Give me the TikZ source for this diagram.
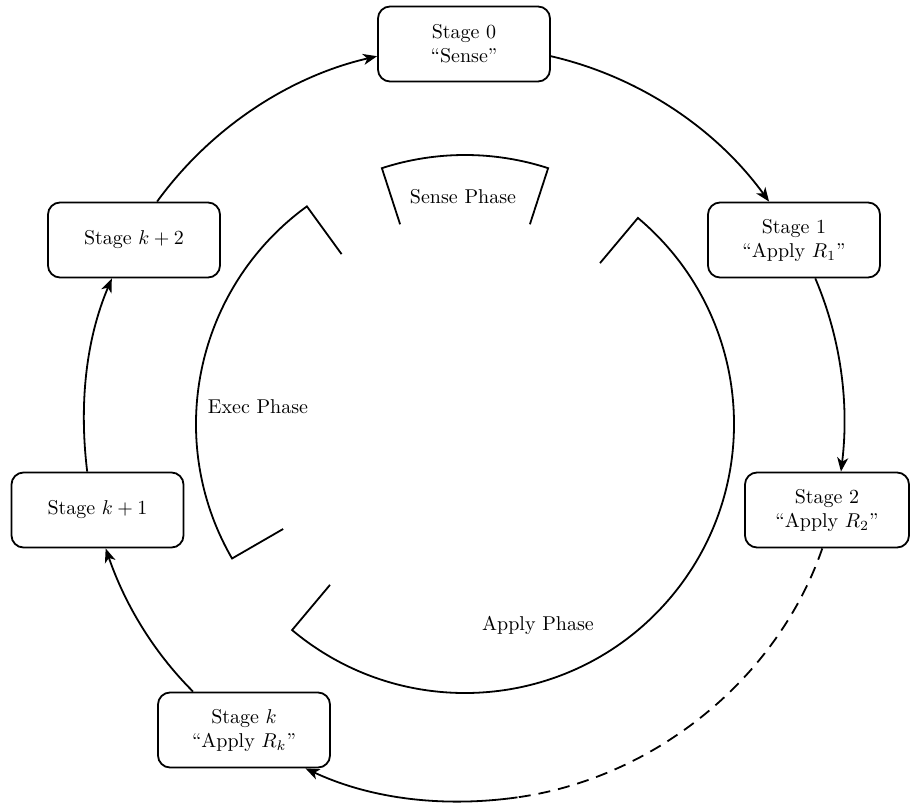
\documentclass[tikz,border=0pt]{standalone}
\usetikzlibrary{arrows.meta}
\begin{document}
\begin{tikzpicture}[x=0.5pt,y=0.5pt,line width=0.9pt,
  stage/.style={draw,rounded corners=6pt,minimum width=86pt,minimum height=37.5pt,align=center,inner sep=2pt},
  flow/.style={-{Stealth[length=7pt,width=5.5pt,inset=2pt]},looseness=0.88},
  dashpart/.style={dash pattern=on 6pt off 4pt,looseness=0.9},
  phase/.style={line join=miter},
  label/.style={inner sep=1pt}]
\useasboundingbox (0,0) rectangle (910,805);
\coordinate (C) at (465,381);
% stage nodes
\node[stage] (S0) at (464,761) {Stage 0\\\textquotedblleft Sense\textquotedblright};
\node[stage] (S1) at (794,565) {Stage 1\\\textquotedblleft Apply $R_1$\textquotedblright};
\node[stage,minimum width=82pt] (S2) at (827,295) {Stage 2\\\textquotedblleft Apply $R_2$\textquotedblright};
\node[stage] (Sk) at (244,75) {Stage $k$\\\textquotedblleft Apply $R_k$\textquotedblright};
\node[stage] (Sk1) at (97.5,295) {Stage $k+1$};
\node[stage] (Sk2) at (134,565) {Stage $k+2$};
% phases
\draw[phase,shift={(C)}] (72:210) -- (72:269) arc[start angle=72,end angle=108,radius=269] -- (108:210);
\draw[phase,shift={(C)}] (126:210) -- (126:269) arc[start angle=126,end angle=210,radius=269] -- (210:210);
\draw[phase,shift={(C)}] (50:210) -- (50:269) arc[start angle=50,end angle=-130,radius=269] -- (-130:210);
\node[label] (senseL) at (463,608) {Sense Phase};
\node[label] (execL) at (258,398) {Exec Phase};
\node[label] (applyL) at (538,180) {Apply Phase};
% connectors
\path[shift={(C)}] (-82:377) coordinate (m);
\draw[flow] (S0.-8.5) to[out=-13,in=126] (S1.123);
\draw[flow] (S1.-61) to[out=-67,in=83] (S2.70.6);
\draw[dashpart] (S2.-97.5) to[out=-109,in=8] (m);
\draw[flow] (m) to[out=-172,in=-25] (Sk.-32.6);
\draw[flow] (Sk.143) to[out=135,in=-71] (Sk1.-78.8);
\draw[flow] (Sk1.105.8) to[out=97,in=-113] (Sk2.-120.7);
\draw[flow] (Sk2.59.3) to[out=54,in=193] (S0.188.6);
\end{tikzpicture}
\end{document}
